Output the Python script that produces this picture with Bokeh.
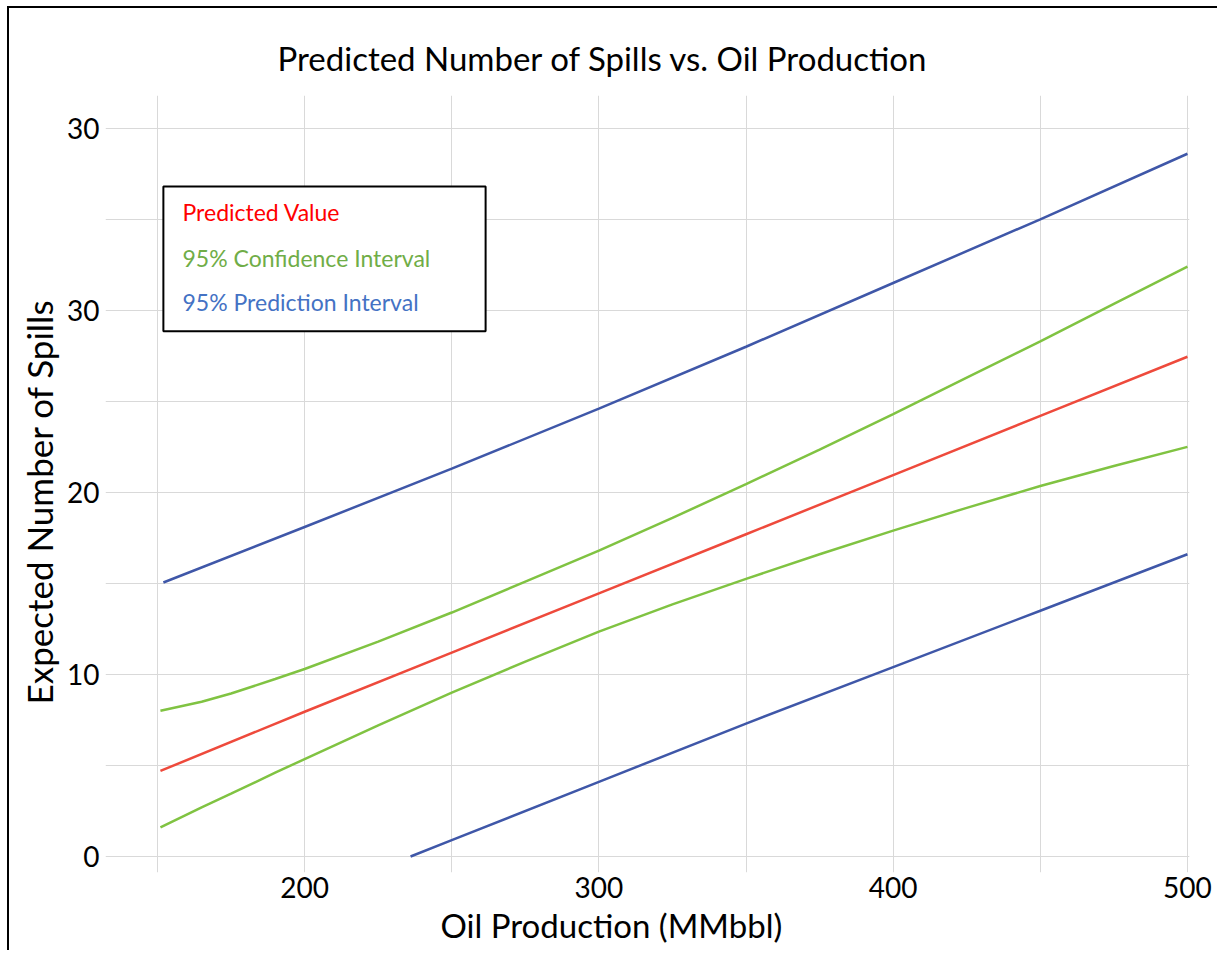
from bokeh.plotting import figure
from bokeh.models import FixedTicker, BoxAnnotation, Label, Title
from bokeh.embed import file_html
from bokeh.resources import INLINE

# ---- data ----
pred_oil = [151, 200, 250, 300, 350, 400, 450, 500]
predicted = [4.7, 7.95, 11.2, 14.45, 17.7, 20.95, 24.2, 27.45]

ci_oil = [151, 165, 175, 190, 200, 225, 250, 275, 300, 325, 350, 375, 400, 425, 450, 475, 500]
ci_upper = [8.0, 8.5, 8.95, 9.75, 10.3, 11.8, 13.4, 15.1, 16.8, 18.6, 20.45, 22.35, 24.3, 26.3, 28.3, 30.35, 32.4]
ci_lower = [1.6, 2.7, 3.45, 4.6, 5.35, 7.2, 9.0, 10.7, 12.35, 13.85, 15.25, 16.6, 17.9, 19.15, 20.35, 21.45, 22.5]

pi_upper_oil = [152, 200, 250, 300, 350, 400, 450, 500]
pi_upper = [15.05, 18.1, 21.3, 24.6, 28.0, 31.5, 35.0, 38.6]
pi_lower_oil = [236, 250, 300, 350, 400, 450, 500]
pi_lower = [0.0, 0.9, 4.1, 7.3, 10.4, 13.5, 16.6]

x_ticks = [200, 300, 400, 500]
x_grid = [150, 200, 250, 300, 350, 400, 450, 500]
y_ticks = [0, 10, 20, 30, 40]
y_tick_labels = {40: "30"}
y_grid = [0, 5, 10, 15, 20, 25, 30, 35, 40]

legend_labels = ["Predicted Value", "95% Confidence Interval", "95% Prediction Interval"]
legend_colors = ["#FF0000", "#70AD47", "#4472C4"]

RED = "#EE4A3C"
GREEN = "#80C342"
BLUE = "#3F57A8"
FONT = "Lato"

p = figure(
    frame_width=1084, frame_height=777,
    x_range=(132.33, 500.7), y_range=(-0.88, 41.8),
    output_backend="svg", toolbar_location=None,
    min_border_left=96, min_border_right=28, min_border_top=87, min_border_bottom=78,
)
p.margin = (6, 0, 0, 7)
p.styles = {"border-left": "2px solid black", "border-top": "2px solid black"}
p.outline_line_color = None

# title
p.title.text = "Predicted Number of Spills vs. Oil Production"
p.title.text_font = FONT
p.title.text_font_size = "33px"
p.title.text_font_style = "normal"
p.title.text_color = "black"
p.title.align = "left"
p.title.offset = 172
p.title.standoff = 36

# axes
for ax in (p.xaxis[0], p.yaxis[0]):
    ax.axis_line_color = None
    ax.major_tick_line_color = None
    ax.minor_tick_line_color = None
    ax.major_tick_out = 0
    ax.major_tick_in = 0
    ax.major_label_text_font = FONT
    ax.major_label_text_font_size = "28px"
    ax.major_label_text_color = "black"
p.xaxis.ticker = FixedTicker(ticks=x_ticks)
p.yaxis.ticker = FixedTicker(ticks=y_ticks)
p.yaxis.major_label_overrides = y_tick_labels
p.xaxis.major_label_standoff = 4
p.yaxis.major_label_standoff = 6

p.xgrid.ticker = FixedTicker(ticks=x_grid)
p.ygrid.ticker = FixedTicker(ticks=y_grid)
p.grid.grid_line_color = "#D9D9D9"
p.grid.grid_line_width = 1

xlab = Title(text="Oil Production (MMbbl)", align="left", offset=335, text_color="black",
             text_font=FONT, text_font_size="33px", text_font_style="normal", standoff=4)
p.add_layout(xlab, "below")
ylab = Title(text="Expected Number of Spills", align="left", offset=168, text_color="black",
             text_font=FONT, text_font_size="35px", text_font_style="normal", standoff=10)
p.add_layout(ylab, "left")

# lines
p.line(pi_upper_oil, pi_upper, line_color=BLUE, line_width=2.5)
p.line(pi_lower_oil, pi_lower, line_color=BLUE, line_width=2.5)
p.line(ci_oil, ci_upper, line_color=GREEN, line_width=2.5)
p.line(ci_oil, ci_lower, line_color=GREEN, line_width=2.5)
p.line(pred_oil, predicted, line_color=RED, line_width=2.5)

# legend box
p.add_layout(BoxAnnotation(left=152.0, right=261.5, top=36.8, bottom=28.85,
                           fill_color="white", fill_alpha=1.0,
                           line_color="black", line_alpha=1.0, line_width=2, level="overlay"))
leg_y = [35.4, 32.9, 30.45]
for txt, col, yy in zip(legend_labels, legend_colors, leg_y):
    p.add_layout(Label(x=158.5, y=yy, text=txt, text_color=col, text_font=FONT,
                       text_font_size="23px", text_baseline="middle", level="overlay"))

open("out.html", "w").write(file_html(p, INLINE))
